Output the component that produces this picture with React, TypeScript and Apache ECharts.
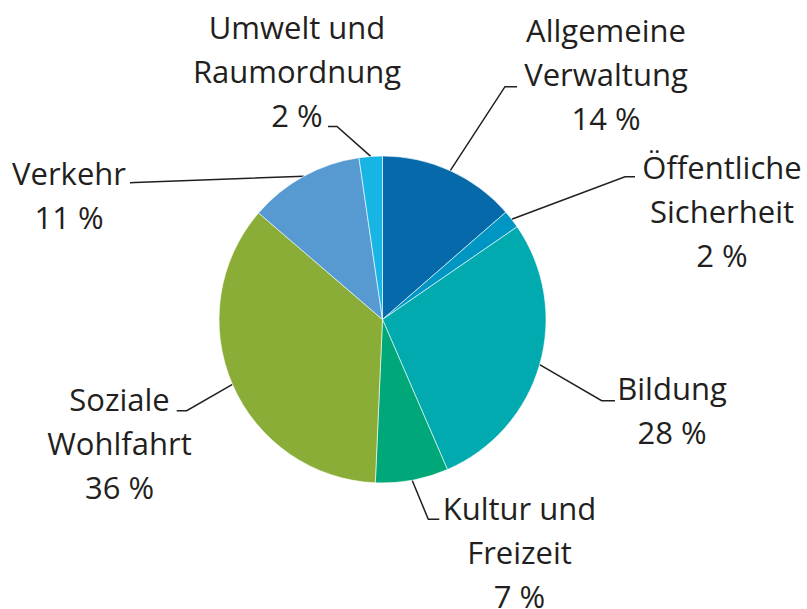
import React, { useEffect, useRef } from "react";
import * as echarts from "echarts";

const categories = [
  "Allgemeine\nVerwaltung",
  "Öffentliche\nSicherheit",
  "Bildung",
  "Kultur und\nFreizeit",
  "Soziale\nWohlfahrt",
  "Verkehr",
  "Umwelt und\nRaumordnung",
];
const values = [13.6, 1.8, 28.1, 7.2, 35.6, 11.4, 2.3];
const colors = ["#0569aa", "#0096c3", "#00aaae", "#00a779", "#89ad36", "#579ad2", "#18b5e4"];

// label block centres and leader-line bend/end points (layout only)
const labelCenters: number[][] = [
  [606, 74],
  [722, 211],
  [672, 410],
  [519.5, 552],
  [119.5, 443],
  [69, 195],
  [297, 71],
];
const leaderPoints: number[][][] = [
  [[505, 86.7], [517, 86.7]],
  [[625, 176.7], [635, 176.7]],
  [[601.7, 400.7], [615, 400.7]],
  [[428.3, 519.3], [439.3, 519.3]],
  [[186.7, 410.7], [176.7, 410.7]],
  [[135, 182.6], [130, 182.7]],
  [[337, 126.5], [328, 126.5]],
];

const CX = 382.5;
const CY = 319.5;
const R = 163.5;

export default function App() {
  const ref = useRef<HTMLDivElement>(null);
  useEffect(() => {
    if (!ref.current) return;
    const chart = echarts.init(ref.current, null, { renderer: "svg" });
    const total = values.reduce((a, b) => a + b, 0);
    const edgePoint = (i: number) => {
      let before = 0;
      for (let k = 0; k < i; k++) before += values[k];
      const mid = ((before + values[i] / 2) / total) * Math.PI * 2;
      return [CX + R * Math.sin(mid), CY - R * Math.cos(mid)];
    };
    chart.setOption({
      animation: false,
      backgroundColor: "#ffffff",
      series: [
        {
          type: "pie",
          center: [CX, CY],
          radius: [0, R],
          startAngle: 90,
          clockwise: true,
          avoidLabelOverlap: false,
          data: categories.map((name, i) => ({
            name,
            value: values[i],
            itemStyle: { color: colors[i] },
          })),
          itemStyle: { borderColor: "#ffffff", borderWidth: 0.6 },
          label: {
            show: true,
            position: "outside",
            formatter: (p: any) => `${p.name}\n${Math.round(p.percent)} %`,
            fontFamily: "Open Sans",
            fontSize: 31,
            lineHeight: 44,
            color: "#231f20",
            align: "center",
          },
          labelLine: {
            show: true,
            lineStyle: { color: "#231f20", width: 1.5 },
          },
          emphasis: { disabled: true },
          labelLayout: (params: any) => {
            const i = params.dataIndex;
            const start =
              params.labelLinePoints && params.labelLinePoints[0]
                ? params.labelLinePoints[0]
                : edgePoint(i);
            return {
              x: labelCenters[i][0],
              y: labelCenters[i][1],
              align: "center",
              verticalAlign: "middle",
              labelLinePoints: [start, leaderPoints[i][0], leaderPoints[i][1]],
            };
          },
        },
      ],
    });
    return () => chart.dispose();
  }, []);
  return (
    <div
      ref={ref}
      style={{ position: "absolute", left: 0, top: 0, width: 807, height: 609, background: "#fff" }}
    />
  );
}
